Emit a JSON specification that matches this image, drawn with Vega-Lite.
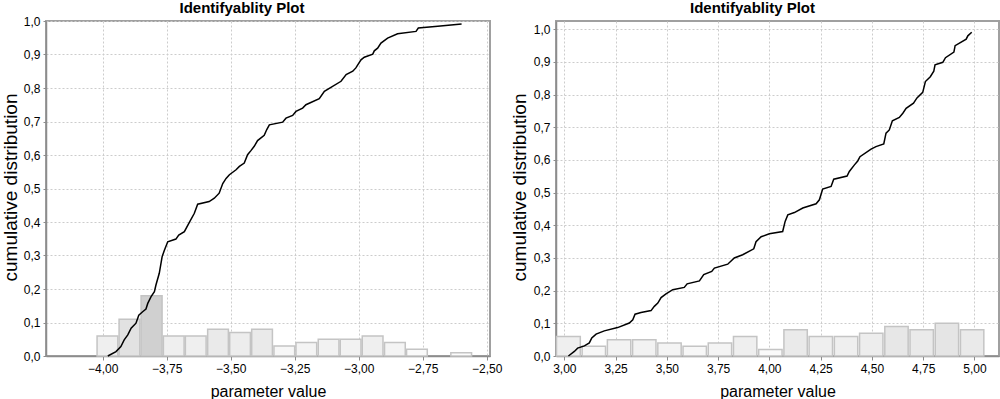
{
  "$schema": "https://vega.github.io/schema/vega-lite/v6.json",
  "padding": {"left": 0, "top": 0, "right": 0, "bottom": 0},
  "background": "white",
  "bounds": "flush",
  "spacing": 66,
  "config": {
    "font": "Liberation Sans",
    "view": {"stroke": "#a0a0a0", "strokeWidth": 2},
    "axis": {
      "gridColor": "#cccccc", "gridDash": [2, 2], "gridWidth": 1,
      "domainColor": "#8c8c8c", "domainWidth": 1.5,
      "tickColor": "#8c8c8c", "tickSize": 3,
      "labelFont": "Liberation Sans", "labelFontSize": 12, "labelColor": "#000000",
      "labelOverlap": false,
      "titleFont": "Liberation Sans", "titleFontWeight": "normal", "titleColor": "#000000"
    },
    "title": {"fontSize": 15, "fontWeight": "bold", "font": "Liberation Sans", "color": "#000000"}
  },
  "datasets": {
    "leftBars": [
      {"param": -4.022, "paramEnd": -3.941, "fraction": 0.06},
      {"param": -3.936, "paramEnd": -3.855, "fraction": 0.11},
      {"param": -3.850, "paramEnd": -3.768, "fraction": 0.18},
      {"param": -3.763, "paramEnd": -3.682, "fraction": 0.06},
      {"param": -3.677, "paramEnd": -3.596, "fraction": 0.06},
      {"param": -3.590, "paramEnd": -3.509, "fraction": 0.08},
      {"param": -3.504, "paramEnd": -3.423, "fraction": 0.07},
      {"param": -3.418, "paramEnd": -3.337, "fraction": 0.08},
      {"param": -3.331, "paramEnd": -3.250, "fraction": 0.03},
      {"param": -3.245, "paramEnd": -3.164, "fraction": 0.04},
      {"param": -3.158, "paramEnd": -3.077, "fraction": 0.05},
      {"param": -3.072, "paramEnd": -2.991, "fraction": 0.05},
      {"param": -2.986, "paramEnd": -2.905, "fraction": 0.06},
      {"param": -2.899, "paramEnd": -2.818, "fraction": 0.04},
      {"param": -2.813, "paramEnd": -2.732, "fraction": 0.02},
      {"param": -2.640, "paramEnd": -2.559, "fraction": 0.01}
    ],
    "rightBars": [
      {"param": 2.962, "paramEnd": 3.078, "fraction": 0.06},
      {"param": 3.087, "paramEnd": 3.201, "fraction": 0.03},
      {"param": 3.210, "paramEnd": 3.324, "fraction": 0.05},
      {"param": 3.333, "paramEnd": 3.447, "fraction": 0.05},
      {"param": 3.456, "paramEnd": 3.570, "fraction": 0.04},
      {"param": 3.579, "paramEnd": 3.693, "fraction": 0.03},
      {"param": 3.702, "paramEnd": 3.816, "fraction": 0.04},
      {"param": 3.825, "paramEnd": 3.939, "fraction": 0.06},
      {"param": 3.948, "paramEnd": 4.062, "fraction": 0.02},
      {"param": 4.071, "paramEnd": 4.185, "fraction": 0.08},
      {"param": 4.194, "paramEnd": 4.308, "fraction": 0.06},
      {"param": 4.317, "paramEnd": 4.431, "fraction": 0.06},
      {"param": 4.440, "paramEnd": 4.554, "fraction": 0.07},
      {"param": 4.563, "paramEnd": 4.677, "fraction": 0.09},
      {"param": 4.686, "paramEnd": 4.800, "fraction": 0.08},
      {"param": 4.809, "paramEnd": 4.923, "fraction": 0.10},
      {"param": 4.932, "paramEnd": 5.046, "fraction": 0.08}
    ],
    "leftCdf": [
      {"param": -3.980, "fraction": 0}, {"param": -3.948, "fraction": 0.013}, {"param": -3.929, "fraction": 0.028},
      {"param": -3.916, "fraction": 0.048}, {"param": -3.902, "fraction": 0.063}, {"param": -3.889, "fraction": 0.083},
      {"param": -3.870, "fraction": 0.098}, {"param": -3.859, "fraction": 0.122}, {"param": -3.844, "fraction": 0.132},
      {"param": -3.831, "fraction": 0.140}, {"param": -3.824, "fraction": 0.157}, {"param": -3.811, "fraction": 0.177},
      {"param": -3.798, "fraction": 0.192}, {"param": -3.792, "fraction": 0.212}, {"param": -3.779, "fraction": 0.247},
      {"param": -3.768, "fraction": 0.296}, {"param": -3.759, "fraction": 0.316}, {"param": -3.746, "fraction": 0.341},
      {"param": -3.714, "fraction": 0.349}, {"param": -3.703, "fraction": 0.361}, {"param": -3.681, "fraction": 0.371},
      {"param": -3.662, "fraction": 0.398}, {"param": -3.642, "fraction": 0.426}, {"param": -3.629, "fraction": 0.453},
      {"param": -3.584, "fraction": 0.461}, {"param": -3.564, "fraction": 0.471}, {"param": -3.545, "fraction": 0.486},
      {"param": -3.531, "fraction": 0.515}, {"param": -3.518, "fraction": 0.530}, {"param": -3.505, "fraction": 0.541},
      {"param": -3.479, "fraction": 0.556}, {"param": -3.466, "fraction": 0.566}, {"param": -3.447, "fraction": 0.576},
      {"param": -3.434, "fraction": 0.601}, {"param": -3.421, "fraction": 0.613}, {"param": -3.408, "fraction": 0.626},
      {"param": -3.395, "fraction": 0.643}, {"param": -3.369, "fraction": 0.659}, {"param": -3.359, "fraction": 0.676},
      {"param": -3.349, "fraction": 0.690}, {"param": -3.297, "fraction": 0.698}, {"param": -3.284, "fraction": 0.710},
      {"param": -3.258, "fraction": 0.718}, {"param": -3.245, "fraction": 0.730}, {"param": -3.219, "fraction": 0.740},
      {"param": -3.206, "fraction": 0.750}, {"param": -3.154, "fraction": 0.768}, {"param": -3.134, "fraction": 0.790},
      {"param": -3.069, "fraction": 0.820}, {"param": -3.049, "fraction": 0.840}, {"param": -3.023, "fraction": 0.850},
      {"param": -3.011, "fraction": 0.860}, {"param": -2.991, "fraction": 0.884}, {"param": -2.978, "fraction": 0.892},
      {"param": -2.945, "fraction": 0.901}, {"param": -2.939, "fraction": 0.911}, {"param": -2.926, "fraction": 0.919},
      {"param": -2.913, "fraction": 0.934}, {"param": -2.887, "fraction": 0.949}, {"param": -2.848, "fraction": 0.962},
      {"param": -2.776, "fraction": 0.969}, {"param": -2.767, "fraction": 0.979}, {"param": -2.691, "fraction": 0.984},
      {"param": -2.598, "fraction": 0.991}
    ],
    "rightCdf": [
      {"param": 3.020, "fraction": 0}, {"param": 3.049, "fraction": 0.014}, {"param": 3.065, "fraction": 0.024},
      {"param": 3.098, "fraction": 0.031}, {"param": 3.122, "fraction": 0.040}, {"param": 3.134, "fraction": 0.055},
      {"param": 3.155, "fraction": 0.067}, {"param": 3.195, "fraction": 0.077}, {"param": 3.260, "fraction": 0.087},
      {"param": 3.317, "fraction": 0.101}, {"param": 3.334, "fraction": 0.111}, {"param": 3.345, "fraction": 0.128},
      {"param": 3.374, "fraction": 0.133}, {"param": 3.423, "fraction": 0.139}, {"param": 3.439, "fraction": 0.152},
      {"param": 3.456, "fraction": 0.162}, {"param": 3.472, "fraction": 0.179}, {"param": 3.496, "fraction": 0.190},
      {"param": 3.529, "fraction": 0.203}, {"param": 3.585, "fraction": 0.210}, {"param": 3.599, "fraction": 0.221},
      {"param": 3.659, "fraction": 0.230}, {"param": 3.680, "fraction": 0.249}, {"param": 3.719, "fraction": 0.259},
      {"param": 3.732, "fraction": 0.269}, {"param": 3.797, "fraction": 0.281}, {"param": 3.829, "fraction": 0.300},
      {"param": 3.870, "fraction": 0.310}, {"param": 3.924, "fraction": 0.328}, {"param": 3.935, "fraction": 0.350},
      {"param": 3.960, "fraction": 0.365}, {"param": 4.000, "fraction": 0.374}, {"param": 4.065, "fraction": 0.381},
      {"param": 4.077, "fraction": 0.412}, {"param": 4.090, "fraction": 0.432}, {"param": 4.122, "fraction": 0.439},
      {"param": 4.163, "fraction": 0.453}, {"param": 4.228, "fraction": 0.466}, {"param": 4.244, "fraction": 0.478},
      {"param": 4.260, "fraction": 0.511}, {"param": 4.301, "fraction": 0.519}, {"param": 4.314, "fraction": 0.541},
      {"param": 4.379, "fraction": 0.551}, {"param": 4.390, "fraction": 0.565}, {"param": 4.415, "fraction": 0.585},
      {"param": 4.431, "fraction": 0.597}, {"param": 4.442, "fraction": 0.610}, {"param": 4.496, "fraction": 0.633},
      {"param": 4.520, "fraction": 0.641}, {"param": 4.558, "fraction": 0.649}, {"param": 4.569, "fraction": 0.682},
      {"param": 4.585, "fraction": 0.692}, {"param": 4.600, "fraction": 0.720}, {"param": 4.634, "fraction": 0.730},
      {"param": 4.651, "fraction": 0.743}, {"param": 4.667, "fraction": 0.758}, {"param": 4.703, "fraction": 0.774},
      {"param": 4.720, "fraction": 0.790}, {"param": 4.748, "fraction": 0.807}, {"param": 4.761, "fraction": 0.840},
      {"param": 4.785, "fraction": 0.855}, {"param": 4.802, "fraction": 0.872}, {"param": 4.808, "fraction": 0.891},
      {"param": 4.846, "fraction": 0.899}, {"param": 4.859, "fraction": 0.913}, {"param": 4.900, "fraction": 0.930},
      {"param": 4.906, "fraction": 0.950}, {"param": 4.960, "fraction": 0.970}, {"param": 4.968, "fraction": 0.980},
      {"param": 4.987, "fraction": 0.991}
    ]
  },
  "hconcat": [
    {
      "width": 444,
      "height": 335,
      "title": {"text": "Identifyablity Plot", "dx": -26, "offset": -1},
      "encoding": {
        "x": {
          "field": "param", "type": "quantitative",
          "scale": {"domain": [-4.2215, -2.487], "nice": false, "zero": false},
          "axis": {
            "values": [-4, -3.75, -3.5, -3.25, -3, -2.75, -2.5],
            "labelExpr": "replace(format(datum.value, '.2f'), '.', ',')",
            "labelOverlap": false,
            "title": "parameter value", "titleFontSize": 16,
            "tickSize": 4, "labelPadding": 3, "titlePadding": 9
          }
        },
        "y": {
          "field": "fraction", "type": "quantitative",
          "scale": {"domain": [0, 1], "nice": false},
          "axis": {
            "values": [0, 0.1, 0.2, 0.3, 0.4, 0.5, 0.6, 0.7, 0.8, 0.9, 1.0],
            "labelExpr": "replace(format(datum.value, '.1f'), '.', ',')",
            "labelOverlap": false,
            "title": "cumulative distribution", "titleFontSize": 19,
            "titleAngle": -90, "titleX": -30, "titleY": 166,
            "titleBaseline": "alphabetic", "titleAlign": "center",
            "labelPadding": 3
          }
        }
      },
      "layer": [
        {
          "data": {"name": "leftBars"},
          "mark": {"type": "bar", "stroke": "#c4c4c4", "strokeWidth": 1.5},
          "encoding": {
            "x2": {"field": "paramEnd"},
            "y2": {"datum": 0},
            "color": {
              "field": "fraction", "type": "quantitative",
              "scale": {"domain": [0, 0.18], "range": ["#ffffff", "#d0d0d0"]},
              "legend": null
            }
          }
        },
        {
          "data": {"name": "leftCdf"},
          "mark": {"type": "line", "color": "#000000", "strokeWidth": 1.5},
          "encoding": {}
        }
      ]
    },
    {
      "width": 443,
      "height": 335,
      "title": {"text": "Identifyablity Plot", "dx": -25, "offset": 5},
      "encoding": {
        "x": {
          "field": "param", "type": "quantitative",
          "scale": {"domain": [2.9595, 5.12], "nice": false, "zero": false},
          "axis": {
            "values": [3, 3.25, 3.5, 3.75, 4, 4.25, 4.5, 4.75, 5],
            "labelExpr": "replace(format(datum.value, '.2f'), '.', ',')",
            "labelOverlap": false,
            "title": "parameter value", "titleFontSize": 16,
            "tickSize": 4, "labelPadding": 3, "titlePadding": 9
          }
        },
        "y": {
          "field": "fraction", "type": "quantitative",
          "scale": {"domain": [0, 1.0254], "nice": false},
          "axis": {
            "values": [0, 0.1, 0.2, 0.3, 0.4, 0.5, 0.6, 0.7, 0.8, 0.9, 1.0],
            "labelExpr": "replace(format(datum.value, '.1f'), '.', ',')",
            "labelOverlap": false,
            "title": "cumulative distribution", "titleFontSize": 19,
            "titleAngle": -90, "titleX": -31, "titleY": 166,
            "titleBaseline": "alphabetic", "titleAlign": "center",
            "labelPadding": 3
          }
        }
      },
      "layer": [
        {
          "data": {"name": "rightBars"},
          "mark": {"type": "bar", "stroke": "#c4c4c4", "strokeWidth": 1.5},
          "encoding": {
            "x2": {"field": "paramEnd"},
            "y2": {"datum": 0},
            "color": {
              "field": "fraction", "type": "quantitative",
              "scale": {"domain": [0, 0.18], "range": ["#ffffff", "#d0d0d0"]},
              "legend": null
            }
          }
        },
        {
          "data": {"name": "rightCdf"},
          "mark": {"type": "line", "color": "#000000", "strokeWidth": 1.5},
          "encoding": {}
        }
      ]
    }
  ]
}
